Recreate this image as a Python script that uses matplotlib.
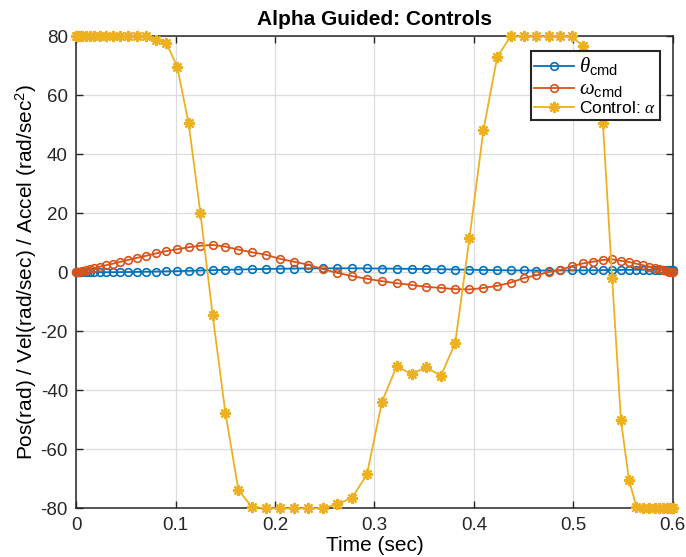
import matplotlib
matplotlib.use("Agg")
import matplotlib.pyplot as plt

# ---- data ----
t = [0.0000, 0.0004, 0.0015, 0.0034, 0.0060, 0.0093, 0.0133, 0.0181, 0.0236, 0.0297,
     0.0365, 0.0440, 0.0521, 0.0609, 0.0702, 0.0801, 0.0905, 0.1015, 0.1130, 0.1249,
     0.1372, 0.1500, 0.1631, 0.1766, 0.1904, 0.2045, 0.2188, 0.2332, 0.2479, 0.2627,
     0.2776, 0.2925, 0.3075, 0.3224, 0.3373, 0.3521, 0.3668, 0.3812, 0.3955, 0.4096,
     0.4234, 0.4369, 0.4500, 0.4628, 0.4751, 0.4870, 0.4985, 0.5095, 0.5199, 0.5298,
     0.5391, 0.5479, 0.5560, 0.5635, 0.5703, 0.5764, 0.5819, 0.5867, 0.5907, 0.5940,
     0.5966, 0.5985, 0.5996, 0.6000]

theta_cmd = [0, 0, 0, 0, 0, 0, 0.01, 0.01, 0.02, 0.04, 0.05, 0.08, 0.11, 0.15, 0.20, 0.26, 0.33,
             0.41, 0.50, 0.61, 0.72, 0.84, 0.95, 1.05, 1.14, 1.21, 1.27, 1.32, 1.35, 1.36, 1.35, 1.32,
             1.28, 1.23, 1.17, 1.10, 1.03, 0.95, 0.87, 0.79, 0.72, 0.67, 0.63, 0.61, 0.61, 0.62, 0.63, 0.66,
             0.69, 0.73, 0.77, 0.81, 0.84, 0.86, 0.88, 0.89, 0.90, 0.91, 0.91, 0.91, 0.91, 0.91, 0.91, 0.91]

omega_cmd = [0, 0.03, 0.12, 0.27, 0.48, 0.74, 1.07, 1.45, 1.9, 2.4, 2.9, 3.5, 4.2, 4.9, 5.6, 6.4, 7.2,
             7.8, 8.5, 9.0, 9.3, 8.7, 7.7, 6.8, 6.0, 4.6, 3.6, 2.6, 1.1, -0.2, -1.3, -2.2,
             -3.0, -3.7, -4.3, -4.9, -5.3, -5.7, -5.8, -5.3, -4.6, -3.5, -2.0, -1.0, 0.1, 0.8, 2.1, 3.0,
             3.6, 4.2, 4.4, 3.9, 3.5, 2.9, 2.4, 1.9, 1.45, 1.07, 0.74, 0.48, 0.27, 0.12, 0.03, 0]

alpha = [80, 80, 80, 80, 80, 80, 80, 80, 80, 80, 80, 80, 80, 80,
         80, 78.7, 77.8, 69.7, 50.5, 20.0, -14.6, -47.6, -73.8, -79.5,
         -80, -80, -80, -80, -80, -78.6, -76.4, -68.4, -43.9, -31.8,
         -34.5, -32.2, -35.1, -24.0, 11.5, 48.2, 72.9, 80, 80, 80,
         80, 80, 80, 76.7, 68.0, 50.5, -2.0, -50.0, -70.4, -79.5,
         -80, -80, -80, -80, -80, -80, -80, -80, -80, -80]

xticks = [0, 0.1, 0.2, 0.3, 0.4, 0.5, 0.6]
xticklabels = ["0", "0.1", "0.2", "0.3", "0.4", "0.5", "0.6"]
yticks = [-80, -60, -40, -20, 0, 20, 40, 60, 80]

title = "Alpha Guided: Controls"
xlabel = "Time (sec)"
ylabel = "Pos(rad) / Vel(rad/sec) / Accel (rad/sec$^2$)"
labels = [r"$\theta_{\mathrm{cmd}}$", r"$\omega_{\mathrm{cmd}}$", r"Control: $\alpha$"]

# ---- style ----
plt.rcParams["font.family"] = ["Liberation Sans", "DejaVu Sans"]
plt.rcParams["mathtext.fontset"] = "custom"
plt.rcParams["mathtext.rm"] = "Liberation Sans"
plt.rcParams["mathtext.it"] = "Liberation Serif:italic"
plt.rcParams["mathtext.bf"] = "Liberation Sans:bold"
plt.rcParams["axes.unicode_minus"] = False

c_blue = "#0072BD"
c_orange = "#D95319"
c_yellow = "#EDB120"
axcol = "#262626"

fig = plt.figure(figsize=(6.86, 5.57), dpi=100)
ax = fig.add_axes([0.1112, 0.0874, 0.8694, 0.8474])

ax.plot(t, theta_cmd, color=c_blue, lw=1.3, marker="o", ms=5.5, mfc="none",
        mew=1.2, clip_on=False, zorder=3, label=labels[0])
ax.plot(t, omega_cmd, color=c_orange, lw=1.3, marker="o", ms=5.5, mfc="none",
        mew=1.2, clip_on=False, zorder=4, label=labels[1])
ax.plot(t, alpha, color=c_yellow, lw=1.3, marker=(8, 2, 0), ms=8,
        mew=1.6, clip_on=False, zorder=5, label=labels[2])

ax.set_xlim(0, 0.6)
ax.set_ylim(-80, 80)
ax.set_xticks(xticks)
ax.set_xticklabels(xticklabels)
ax.set_yticks(yticks)

ax.grid(True, color="#dcdcdc", lw=0.9)
ax.set_axisbelow(True)
ax.tick_params(direction="in", top=True, right=True, length=5, width=1.0,
               colors=axcol, labelsize=13.5, pad=6)
for s in ax.spines.values():
    s.set_color(axcol)
    s.set_linewidth(1.1)

ax.set_title(title, fontsize=15, fontweight="bold", pad=8)
ax.set_xlabel(xlabel, fontsize=15, labelpad=2)
ax.set_ylabel(ylabel, fontsize=15, labelpad=1)

leg = ax.legend(loc="upper right", bbox_to_anchor=(0.9787, 0.968), borderaxespad=0,
                fontsize=12.5, frameon=True, fancybox=False, handlelength=2.3,
                handletextpad=0.3, labelspacing=0.1, borderpad=0.2)
for txt in leg.get_texts()[:2]:
    txt.set_fontsize(15)
leg.get_frame().set_edgecolor(axcol)
leg.get_frame().set_linewidth(1.5)
leg.get_frame().set_alpha(1)
leg.set_zorder(10)

fig.savefig("out.png", dpi=100)
